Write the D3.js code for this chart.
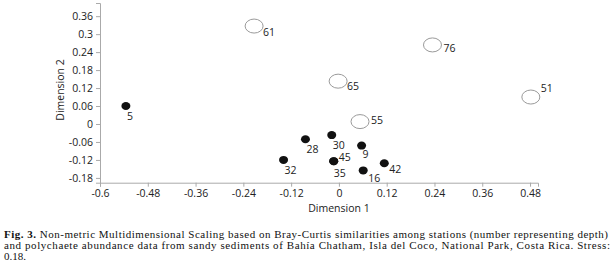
<!DOCTYPE html>
<html>
<head>
<meta charset="utf-8">
<script src="https://cdn.jsdelivr.net/npm/d3@7"></script>
<style>
  body { margin: 0; background: #fff; }
  svg { display: block; }
  .tick text { font-family: "Open Sans", sans-serif; font-size: 10.5px; fill: #222; }
  .axis-label { font-family: "Open Sans", sans-serif; font-size: 10.5px; fill: #222; }
  .pt-label { font-family: "Open Sans", sans-serif; font-size: 10.5px; fill: #222; }
  .caption { font-family: "Liberation Serif", "Times New Roman", serif; font-size: 11px; fill: #111; }
</style>
</head>
<body>
<script>
// Data stasiun NMDS (label = kedalaman)
const stations = ["5", "61", "65", "55", "76", "51", "28", "30", "9", "32", "45", "35", "16", "42"];
const dim1 = [-0.535, -0.213, -0.002, 0.053, 0.235, 0.482, -0.084, -0.018, 0.057, -0.139, -0.013, -0.013, 0.061, 0.114];
const dim2 = [0.060, 0.327, 0.143, 0.008, 0.264, 0.090, -0.051, -0.037, -0.072, -0.120, -0.124, -0.124, -0.155, -0.131];
const group = ["shallow", "deep", "deep", "deep", "deep", "deep", "shallow", "shallow", "shallow", "shallow", "shallow", "shallow", "shallow", "shallow"];

const xTicks = [-0.6, -0.48, -0.36, -0.24, -0.12, 0, 0.12, 0.24, 0.36, 0.48];
const yTicks = [-0.18, -0.12, -0.06, 0, 0.06, 0.12, 0.18, 0.24, 0.3, 0.36];

// Posisi label relatif titik
const labelOffset = {
    "5": [1, 14], "61": [9, 10], "65": [9, 9], "55": [11, 2], "76": [11, 7], "51": [10, -5],
    "28": [1, 14], "30": [1, 14], "9": [1, 12], "32": [1, 14], "45": [5, 0], "35": [0, 16],
    "16": [5, 12], "42": [5, 10]
};

const W = 611, H = 274;
const svg = d3.select("body").append("svg").attr("width", W).attr("height", H);

const xScale = d3.scaleLinear().domain([-0.6, 0.5]).range([100, 538]);
const yScale = d3.scaleLinear().domain([-0.196, 0.404]).range([182.7, 3]);

// Sumbu X
const xAxis = svg.append("g")
    .attr("transform", `translate(0,${yScale(-0.196)})`)
    .call(d3.axisBottom(xScale).tickValues(xTicks).tickSize(4).tickPadding(3).tickFormat(d => String(d)));
// Sumbu Y
const yAxis = svg.append("g")
    .attr("transform", `translate(${xScale(-0.6)},0)`)
    .call(d3.axisLeft(yScale).tickValues(yTicks).tickSize(4).tickPadding(3).tickFormat(d => String(d)));

[xAxis, yAxis].forEach(a => {
    a.select(".domain").attr("stroke", "#aaa");
    a.selectAll(".tick line").attr("stroke", "#aaa");
});

// Label sumbu
svg.append("text")
    .attr("class", "axis-label")
    .attr("x", xScale(0))
    .attr("y", 212)
    .attr("text-anchor", "middle")
    .text("Dimension 1");

svg.append("text")
    .attr("class", "axis-label")
    .attr("transform", "rotate(-90)")
    .attr("x", -90)
    .attr("y", 64)
    .attr("text-anchor", "middle")
    .text("Dimension 2");

// Titik data
stations.forEach((s, i) => {
    const cx = xScale(dim1[i]), cy = yScale(dim2[i]);
    if (group[i] === "deep") {
        svg.append("ellipse")
            .attr("cx", cx).attr("cy", cy)
            .attr("rx", 9).attr("ry", 7)
            .attr("fill", "#fff")
            .attr("stroke", "#9a9a9a")
            .attr("stroke-width", 1);
    } else {
        svg.append("ellipse")
            .attr("cx", cx).attr("cy", cy)
            .attr("rx", 4.5).attr("ry", 4)
            .attr("fill", "#111");
    }
    const off = labelOffset[s];
    svg.append("text")
        .attr("class", "pt-label")
        .attr("x", cx + off[0])
        .attr("y", cy + off[1])
        .text(s);
});

// Keterangan gambar
const cap = svg.append("g");
const l1 = cap.append("text").attr("class", "caption").attr("x", 4).attr("y", 238)
    .attr("textLength", 604).attr("lengthAdjust", "spacing");
l1.append("tspan").attr("font-weight", "bold").text("Fig. 3.");
l1.append("tspan").text(" Non-metric Multidimensional Scaling based on Bray-Curtis similarities among stations (number representing depth)");
cap.append("text").attr("class", "caption").attr("x", 4).attr("y", 249)
    .attr("textLength", 606).attr("lengthAdjust", "spacing")
    .text("and polychaete abundance data from sandy sediments of Bahía Chatham, Isla del Coco, National Park, Costa Rica. Stress:");
cap.append("text").attr("class", "caption").attr("x", 4).attr("y", 260)
    .text("0.18.");
</script>
</body>
</html>
